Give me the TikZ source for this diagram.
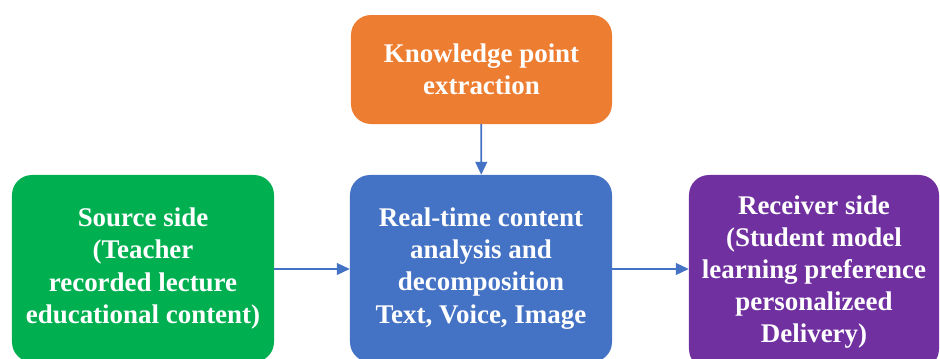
\documentclass[tikz,border=0pt]{standalone}
\usepackage{fontspec}
\setmainfont{Liberation Serif}
\usetikzlibrary{arrows.meta}
\definecolor{kpOrange}{HTML}{ED7D31}
\definecolor{srcGreen}{HTML}{00B050}
\definecolor{midBlue}{HTML}{4472C4}
\definecolor{recPurple}{HTML}{7030A0}
\tikzset{
  box/.style={rounded corners=0.6cm, text=white, align=center,
    font=\fontsize{23}{27.5}\selectfont\bfseries, inner sep=0pt},
  flow/.style={midBlue, line width=1.5pt, -{Triangle[length=11pt,width=10pt]}}
}
\begin{document}
\begin{tikzpicture}[x=0.03cm,y=-0.03cm]
\clip (0,0) rectangle (940,358);
\node[box, fill=kpOrange, minimum width=7.83cm, minimum height=3.27cm] (know) at (481.5,69.5) {Knowledge point\\extraction};
\node[box, fill=srcGreen, minimum width=7.86cm, minimum height=5.61cm] (src) at (143,268.5) {Source side\\(Teacher\\recorded lecture\\educational content)};
\node[box, fill=midBlue, minimum width=7.86cm, minimum height=5.61cm] (ana) at (481,268.5) {Real-time content\\analysis and\\decomposition\\Text, Voice, Image};
\node[box, fill=recPurple, minimum width=7.5cm, minimum height=5.82cm] (rec) at (814,272) {Receiver side\\(Student model\\learning preference\\personalizeed\\Delivery)};
\draw[flow] (know) -- (ana);
\draw[flow] (src.east |- 0,269) -- (ana.west |- 0,269);
\draw[flow] (ana.east |- 0,269) -- (rec.west |- 0,269);
\end{tikzpicture}
\end{document}
